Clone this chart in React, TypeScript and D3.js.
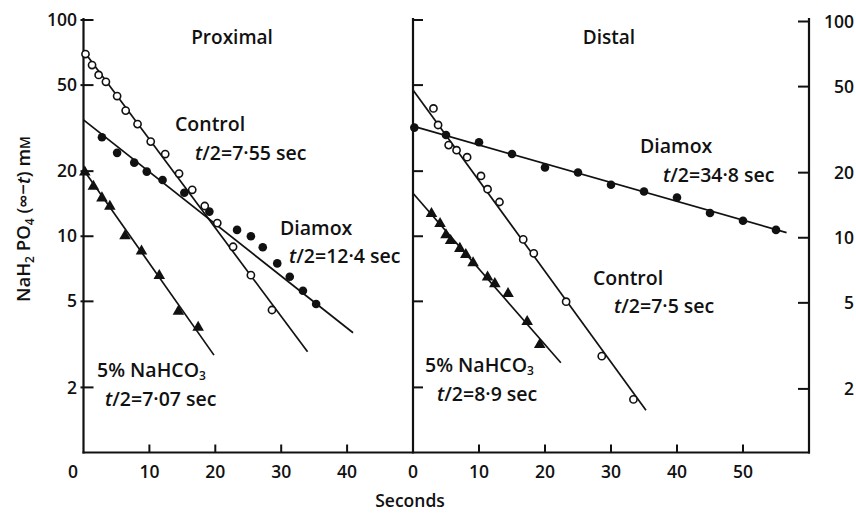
import React from "react";
import * as d3 from "d3";

// ---------- data (seconds, mM) ----------
const yTicks = [2, 5, 10, 20, 50, 100];
const xTicksProx = [0, 10, 20, 30, 40];
const xTicksDist = [0, 10, 20, 30, 40, 50];

const proxControlT = [0.3, 1.3, 2.3, 3.4, 5.1, 6.4, 8.2, 10.2, 12.4, 14.5, 16.5, 18.4, 20.3, 22.7, 25.4, 28.6];
const proxControlV = [69.6, 61.9, 55.7, 51.8, 44.5, 38.1, 33.0, 27.4, 24.0, 19.5, 16.4, 13.8, 11.5, 8.94, 6.61, 4.56];
const proxDiamoxT = [2.8, 5.1, 7.7, 9.6, 12.0, 15.3, 19.1, 23.3, 25.4, 27.2, 29.4, 31.3, 33.3, 35.3];
const proxDiamoxV = [28.7, 24.3, 21.9, 19.9, 18.2, 15.9, 13.0, 10.7, 10.0, 8.89, 7.49, 6.5, 5.6, 4.86];
const proxBicarbT = [0.2, 1.5, 2.8, 4.0, 6.3, 8.8, 11.5, 14.4, 17.4];
const proxBicarbV = [19.9, 17.1, 15.1, 13.8, 10.1, 8.57, 6.61, 4.52, 3.81];

const distControlT = [3.1, 3.8, 5.4, 6.6, 8.2, 10.3, 11.3, 13.1, 16.7, 18.3, 23.2, 28.6, 33.4];
const distControlV = [39.0, 32.7, 26.4, 25.0, 23.2, 19.0, 16.5, 14.4, 9.67, 8.33, 4.98, 2.79, 1.76];
const distDiamoxT = [0.2, 5, 10, 15, 20, 25, 30, 35, 40, 45, 50, 55];
const distDiamoxV = [31.8, 29.4, 27.2, 24.0, 20.8, 19.7, 17.3, 16.1, 15.1, 12.8, 11.8, 10.7];
const distBicarbT = [2.8, 4.1, 5.0, 5.7, 7.1, 8.0, 9.1, 11.3, 12.4, 14.4, 17.3, 19.2];
const distBicarbV = [12.8, 11.5, 10.2, 9.6, 8.82, 8.27, 7.56, 6.51, 6.06, 5.46, 4.05, 3.17];

// fitted regression lines: [t, value] endpoints
const proxControlFit: [number, number][] = [[0, 72], [34.0, 2.92]];
const proxDiamoxFit: [number, number][] = [[0, 34.5], [40.9, 3.58]];
const proxBicarbFit: [number, number][] = [[0, 20.3], [19.8, 2.82]];
const distControlFit: [number, number][] = [[0, 47.5], [35.3, 1.57]];
const distDiamoxFit: [number, number][] = [[0, 32.3], [56.6, 10.4]];
const distBicarbFit: [number, number][] = [[0, 15.8], [22.4, 2.6]];

const FONT = "'Open Sans', 'DejaVu Sans', sans-serif";
const INK = "#111";
const ANN = 19.5;

export default function App() {
  const y = d3.scaleLog().domain([1, 100]).range([452.5, 20]);
  const xL = d3.scaleLinear().domain([0, 50]).range([83.5, 413]);
  const xR = d3.scaleLinear().domain([0, 60]).range([413, 809]);
  const bottom = y(1);
  const top = y(100);

  const line = (xs: d3.ScaleLinear<number, number>) =>
    d3.line<[number, number]>().x((d) => xs(d[0])).y((d) => y(d[1]));
  const tri = d3.symbol().type(d3.symbolTriangle).size(58)() as string;

  const openPts = (xs: any, T: number[], V: number[]) =>
    T.map((t, i) => (
      <circle key={i} cx={xs(t)} cy={y(V[i])} r={3.6} fill="#fff" stroke={INK} strokeWidth={1.6} />
    ));
  const fillPts = (xs: any, T: number[], V: number[]) =>
    T.map((t, i) => <circle key={i} cx={xs(t)} cy={y(V[i])} r={4.3} fill={INK} />);
  const triPts = (xs: any, T: number[], V: number[]) =>
    T.map((t, i) => (
      <path key={i} d={tri} transform={`translate(${xs(t)},${y(V[i]) + 0.5})`} fill={INK} />
    ));

  const fitPath = (xs: any, d: [number, number][]) => (
    <path d={line(xs)(d) as string} fill="none" stroke={INK} strokeWidth={1.7} />
  );

  const halfLife = (x: number, yy: number, val: string) => (
    <text x={x} y={yy} fontSize={ANN}>
      <tspan fontStyle="italic">t</tspan>/2=<tspan>{val}</tspan> sec
    </text>
  );
  const bicarb = (x: number, yy: number) => (
    <text x={x} y={yy} fontSize={ANN}>
      5% NaHCO<tspan fontSize={12} dy={3}>3</tspan>
    </text>
  );

  return (
    <svg width={856} height={513} style={{ position: "absolute", left: 0, top: 0, background: "#fff" }}
      fontFamily={FONT} fontWeight={600} fill={INK}>
      <rect width={856} height={513} fill="#fff" />
      {/* frame */}
      <g stroke={INK} strokeWidth={2.2} fill="none">
        <line x1={xL(0)} x2={xL(0)} y1={top - 2} y2={bottom + 1} />
        <line x1={xR(0)} x2={xR(0)} y1={top - 2} y2={bottom + 1} />
        <line x1={xR(60)} x2={xR(60)} y1={top - 2} y2={bottom + 1} />
        <line x1={xL(0) - 1} x2={xR(60) + 1} y1={bottom} y2={bottom} />
      </g>
      {/* ticks */}
      <g stroke={INK} strokeWidth={2}>
        {yTicks.map((v) => (
          <g key={v}>
            <line x1={xL(0) - 3} x2={xL(0) + 10} y1={y(v)} y2={y(v)} />
            <line x1={xR(0)} x2={xR(0) + 10} y1={y(v)} y2={y(v)} />
            <line x1={xR(60) - 11} x2={xR(60)} y1={y(v) + 1.5} y2={y(v) + 1.5} />
          </g>
        ))}
        {xTicksProx.filter((t) => t > 0).map((t) => (
          <line key={"p" + t} x1={xL(t)} x2={xL(t)} y1={bottom} y2={bottom - 8} />
        ))}
        {xTicksDist.filter((t) => t > 0).map((t) => (
          <line key={"d" + t} x1={xR(t)} x2={xR(t)} y1={bottom} y2={bottom - 8} />
        ))}
      </g>
      {/* tick labels */}
      <g fontSize={17.5}>
        {yTicks.map((v) => (
          <text key={"l" + v} x={77} y={y(v)} dy="0.35em" textAnchor="end">{v}</text>
        ))}
        {yTicks.map((v) => (
          <text key={"r" + v} x={854} y={y(v) + 1.5} dy="0.35em" textAnchor="end">{v}</text>
        ))}
        {xTicksProx.map((t) => (
          <text key={"xp" + t} x={t === 0 ? 73 : xL(t)} y={478} textAnchor="middle">{t}</text>
        ))}
        {xTicksDist.map((t) => (
          <text key={"xd" + t} x={xR(t)} y={478} textAnchor="middle">{t}</text>
        ))}
        <text x={410} y={507} textAnchor="middle">Seconds</text>
      </g>
      {/* y axis title */}
      <text transform="translate(30,219) rotate(-90)" textAnchor="middle" fontSize={18.5}>
        NaH<tspan fontSize={12} dy={4}>2</tspan>
        <tspan dy={-4}> PO</tspan>
        <tspan fontSize={12} dy={4}>4</tspan>
        <tspan dy={-4}> (∞−</tspan>
        <tspan fontStyle="italic">t</tspan>) m<tspan fontSize={14}>M</tspan>
      </text>

      {/* panel titles */}
      <text x={232} y={44} textAnchor="middle" fontSize={19}>Proximal</text>
      <text x={609} y={44} textAnchor="middle" fontSize={19}>Distal</text>

      {/* fitted lines */}
      {fitPath(xL, proxControlFit)}
      {fitPath(xL, proxDiamoxFit)}
      {fitPath(xL, proxBicarbFit)}
      {fitPath(xR, distControlFit)}
      {fitPath(xR, distDiamoxFit)}
      {fitPath(xR, distBicarbFit)}

      {/* points */}
      {fillPts(xL, proxDiamoxT, proxDiamoxV)}
      {openPts(xL, proxControlT, proxControlV)}
      {triPts(xL, proxBicarbT, proxBicarbV)}
      {fillPts(xR, distDiamoxT, distDiamoxV)}
      {openPts(xR, distControlT, distControlV)}
      {triPts(xR, distBicarbT, distBicarbV)}

      {/* annotations */}
      <text x={175} y={131} fontSize={ANN}>Control</text>
      {halfLife(195, 160, "7·55")}
      <text x={280} y={235} fontSize={ANN}>Diamox</text>
      {halfLife(289, 263, "12·4")}
      {bicarb(97, 377)}
      {halfLife(105, 406, "7·07")}

      <text x={640} y={153} fontSize={ANN}>Diamox</text>
      {halfLife(663, 182, "34·8")}
      <text x={593} y={285} fontSize={ANN}>Control</text>
      {halfLife(614, 313, "7·5")}
      {bicarb(425, 372)}
      {halfLife(437, 401, "8·9")}
    </svg>
  );
}
